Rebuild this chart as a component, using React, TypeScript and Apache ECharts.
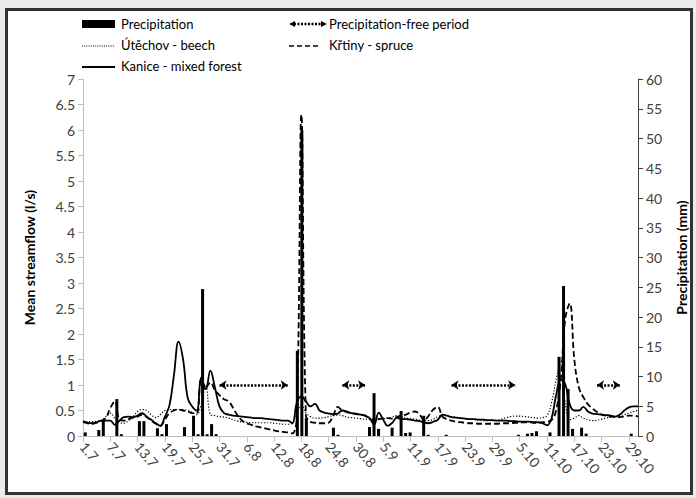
import React, { useEffect, useRef } from "react";
import * as echarts from "echarts";

const dates = [
  "1.7","2.7","3.7","4.7","5.7","6.7","7.7","8.7","9.7","10.7","11.7","12.7","13.7","14.7","15.7","16.7","17.7","18.7","19.7","20.7","21.7","22.7","23.7","24.7","25.7","26.7","27.7","28.7","29.7","30.7","31.7",
  "1.8","2.8","3.8","4.8","5.8","6.8","7.8","8.8","9.8","10.8","11.8","12.8","13.8","14.8","15.8","16.8","17.8","18.8","19.8","20.8","21.8","22.8","23.8","24.8","25.8","26.8","27.8","28.8","29.8","30.8","31.8",
  "1.9","2.9","3.9","4.9","5.9","6.9","7.9","8.9","9.9","10.9","11.9","12.9","13.9","14.9","15.9","16.9","17.9","18.9","19.9","20.9","21.9","22.9","23.9","24.9","25.9","26.9","27.9","28.9","29.9","30.9",
  "1.10","2.10","3.10","4.10","5.10","6.10","7.10","8.10","9.10","10.10","11.10","12.10","13.10","14.10","15.10","16.10","17.10","18.10","19.10","20.10","21.10","22.10","23.10","24.10","25.10","26.10","27.10","28.10","29.10","30.10","31.10",
];

const precipitation = [
  0.6, 0, 0, 1.0, 2.6, 0, 0, 6.2, 0.3, 0,
  0, 0, 2.5, 2.5, 0, 0, 1.3, 0.3, 2.0, 0,
  0, 0, 1.5, 0, 3.4, 0.3, 24.7, 0.3, 2.0, 0.3,
  0, 0, 0, 0, 0, 0, 0, 0, 0, 0,
  0, 0, 0, 0, 0, 0, 0, 14.3, 51.4, 3.0,
  0, 0, 0, 0, 0, 1.4, 0.2, 0, 0, 0,
  0, 0, 0, 1.5, 7.2, 1.2, 0, 0, 1.4, 0,
  4.2, 0.5, 0.6, 0, 0, 3.4, 0.2, 0, 0, 0,
  0.2, 0, 0, 0, 0, 0, 0, 0, 0, 0,
  0, 0, 0, 0, 0, 0, 0.2, 0, 0.4, 0.5,
  0.8, 0, 0, 0.6, 0, 13.3, 25.2, 7.9, 1.2, 0,
  1.4, 0.4, 0, 0, 0, 0, 0, 0, 0, 0,
  0, 0.4, 0,
];

const utechov = [
  0.30, 0.28, 0.28, 0.29, 0.30, 0.38, 0.45, 0.35, 0.27, 0.25,
  0.30, 0.38, 0.48, 0.52, 0.50, 0.42, 0.36, 0.42, 0.50, 0.52,
  0.52, 0.52, 0.52, 0.50, 0.46, 0.42, 0.62, 1.00, 0.42, 0.40,
  0.38, 0.37, 0.35, 0.32, 0.29, 0.28, 0.27, 0.26, 0.26, 0.26,
  0.26, 0.26, 0.25, 0.24, 0.23, 0.23, 0.25, 0.45, 0.60, 0.45,
  0.38, 0.35, 0.35, 0.36, 0.38, 0.40, 0.41, 0.40, 0.37, 0.36,
  0.35, 0.34, 0.33, 0.33, 0.33, 0.33, 0.34, 0.35, 0.37, 0.40,
  0.38, 0.35, 0.34, 0.33, 0.31, 0.30, 0.30, 0.33, 0.38, 0.40,
  0.39, 0.38, 0.37, 0.35, 0.34, 0.33, 0.32, 0.31, 0.30, 0.30,
  0.30, 0.31, 0.33, 0.36, 0.38, 0.39, 0.39, 0.38, 0.37, 0.36,
  0.35, 0.36, 0.40, 0.65, 1.10, 1.45, 0.65, 0.32, 0.35, 0.40,
  0.35, 0.32, 0.30, 0.31, 0.33, 0.35, 0.37, 0.38, 0.40, 0.42,
  0.45, 0.48, 0.50,
];

const krtiny = [
  0.27, 0.25, 0.24, 0.26, 0.30, 0.35, 0.55, 0.68, 0.32, 0.30,
  0.33, 0.36, 0.38, 0.42, 0.37, 0.30, 0.24, 0.20, 0.32, 0.45,
  0.50, 0.52, 0.50, 0.48, 0.45, 0.45, 1.12, 0.95, 1.05, 0.90,
  0.80, 0.72, 0.68, 0.55, 0.40, 0.30, 0.25, 0.22, 0.19, 0.17,
  0.15, 0.13, 0.11, 0.09, 0.08, 0.07, 0.05, 0.35, 6.30, 0.40,
  0.28, 0.26, 0.25, 0.25, 0.26, 0.40, 0.57, 0.50, 0.47, 0.45,
  0.44, 0.42, 0.40, 0.33, 0.30, 0.33, 0.35, 0.35, 0.34, 0.37,
  0.40, 0.42, 0.46, 0.48, 0.42, 0.31, 0.40, 0.52, 0.57, 0.38,
  0.33, 0.30, 0.28, 0.27, 0.26, 0.25, 0.25, 0.24, 0.24, 0.24,
  0.24, 0.24, 0.25, 0.25, 0.25, 0.26, 0.26, 0.27, 0.27, 0.26,
  0.26, 0.27, 0.28, 0.31, 0.50, 1.10, 2.30, 2.60, 1.50, 0.95,
  0.76, 0.62, 0.54, 0.47, 0.42, 0.40, 0.38, 0.37, 0.37, 0.38,
  0.40, 0.40, 0.38,
];

const kanice = [
  0.28, 0.26, 0.25, 0.27, 0.30, 0.30, 0.30, 0.22, 0.30, 0.37,
  0.38, 0.37, 0.40, 0.45, 0.38, 0.32, 0.25, 0.20, 0.38, 0.60,
  1.20, 1.85, 1.50, 0.75, 0.58, 0.50, 1.15, 0.92, 1.28, 0.95,
  0.58, 0.45, 0.42, 0.40, 0.39, 0.38, 0.37, 0.36, 0.35, 0.35,
  0.34, 0.33, 0.32, 0.31, 0.30, 0.30, 0.25, 0.65, 0.78, 0.68,
  0.58, 0.63, 0.50, 0.46, 0.44, 0.43, 0.44, 0.50, 0.48, 0.45,
  0.43, 0.42, 0.40, 0.35, 0.22, 0.46, 0.32, 0.20, 0.26, 0.36,
  0.33, 0.33, 0.32, 0.30, 0.29, 0.26, 0.25, 0.28, 0.32, 0.42,
  0.40, 0.37, 0.36, 0.35, 0.34, 0.33, 0.33, 0.32, 0.32, 0.31,
  0.31, 0.30, 0.30, 0.30, 0.29, 0.29, 0.28, 0.28, 0.28, 0.27,
  0.27, 0.25, 0.21, 0.35, 0.80, 1.10, 1.02, 0.62, 0.50, 0.50,
  0.57, 0.48, 0.44, 0.43, 0.42, 0.41, 0.40, 0.38, 0.42, 0.50,
  0.56, 0.58, 0.58,
];

// precipitation-free periods: [start date, end date], drawn at streamflow level 1
const dryPeriods: [string, string][] = [
  ["31.7", "15.8"],
  ["27.8", "1.9"],
  ["20.9", "4.10"],
  ["22.10", "27.10"],
];
const dryLevel = 1;

const FONT = "Lato, 'Open Sans', sans-serif";

export default function App() {
  const ref = useRef<HTMLDivElement>(null);

  useEffect(() => {
    if (!ref.current) return;
    const chart = echarts.init(ref.current, undefined, { renderer: "svg" });

    const legendText = (x: number, y: number, t: string) => ({
      type: "text",
      x,
      y,
      style: { text: t, fill: "#000", font: `13px ${FONT}`, verticalAlign: "middle", align: "left" },
    });

    const option: any = {
      animation: false,
      textStyle: { fontFamily: FONT },
      grid: { left: 83, right: 57, top: 79, bottom: 62 },
      xAxis: [
        {
          type: "category",
          data: dates,
          boundaryGap: false,
          axisLine: { lineStyle: { color: "#bfbfbf", width: 1 } },
          axisTick: { show: true, interval: 5, length: 6, lineStyle: { color: "#bfbfbf" } },
          axisLabel: {
            interval: 5,
            rotate: -50,
            fontSize: 14,
            color: "#404040",
            fontFamily: FONT,
            margin: 8,
          },
          splitLine: { show: false },
        },
        {
          type: "category",
          data: dates,
          boundaryGap: true,
          show: false,
        },
      ],
      yAxis: [
        {
          type: "value",
          min: 0,
          max: 7,
          interval: 0.5,
          name: "Mean streamflow (l/s)",
          nameLocation: "middle",
          nameGap: 47,
          nameTextStyle: { fontSize: 14, fontWeight: "bold", color: "#000", fontFamily: FONT },
          axisLine: { show: true, lineStyle: { color: "#bfbfbf" } },
          axisTick: { show: true, length: 5, lineStyle: { color: "#bfbfbf" } },
          axisLabel: { fontSize: 14, color: "#404040", fontFamily: FONT, margin: 8 },
          splitLine: { show: false },
        },
        {
          type: "value",
          min: 0,
          max: 60,
          interval: 5,
          position: "right",
          name: "Precipitation (mm)",
          nameLocation: "middle",
          nameGap: 36,
          nameTextStyle: { fontSize: 14, fontWeight: "bold", color: "#000", fontFamily: FONT },
          axisLine: { show: true, lineStyle: { color: "#404040" } },
          axisTick: { show: true, length: 5, lineStyle: { color: "#404040" } },
          axisLabel: { fontSize: 14, color: "#404040", fontFamily: FONT, margin: 8 },
          splitLine: { show: false },
        },
      ],
      series: [
        {
          name: "Precipitation",
          type: "bar",
          xAxisIndex: 1,
          yAxisIndex: 1,
          data: precipitation,
          barWidth: 3,
          itemStyle: { color: "#000" },
          z: 3,
        },
        {
          name: "Útěchov - beech",
          type: "line",
          data: utechov,
          smooth: 0.4,
          symbol: "none",
          lineStyle: { color: "#000", width: 1.2, type: [1.2, 1.8] },
          z: 2,
        },
        {
          name: "Křtiny - spruce",
          type: "line",
          data: krtiny,
          smooth: 0.4,
          symbol: "none",
          lineStyle: { color: "#000", width: 1.8, type: [6, 3] },
          z: 2,
        },
        {
          name: "Kanice - mixed forest",
          type: "line",
          data: kanice,
          smooth: 0.4,
          symbol: "none",
          lineStyle: { color: "#000", width: 1.8 },
          z: 2,
          markLine: {
            silent: true,
            symbol: ["arrow", "arrow"],
            symbolSize: 7,
            label: { show: false },
            lineStyle: { color: "#000", width: 2.5, type: [2, 1.5] },
            data: dryPeriods.map(([a, b]) => [
              { coord: [dates.indexOf(a), dryLevel] },
              { coord: [dates.indexOf(b), dryLevel] },
            ]),
          },
        },
      ],
      graphic: [
        { type: "rect", shape: { x: 82, y: 20, width: 33, height: 8 }, style: { fill: "#000" } },
        legendText(121, 24, "Precipitation"),
        { type: "line", shape: { x1: 82, y1: 46, x2: 115, y2: 46 }, style: { stroke: "#000", lineWidth: 1, lineDash: [1, 1.2] } },
        legendText(121, 45, "Útěchov - beech"),
        { type: "line", shape: { x1: 82, y1: 67, x2: 115, y2: 67 }, style: { stroke: "#000", lineWidth: 2 } },
        legendText(121, 66, "Kanice - mixed forest"),
        { type: "line", shape: { x1: 294, y1: 24, x2: 322, y2: 24 }, style: { stroke: "#000", lineWidth: 2.5, lineDash: [2, 1.5] } },
        { type: "polygon", shape: { points: [[289, 24], [295, 21], [295, 27]] }, style: { fill: "#000" } },
        { type: "polygon", shape: { points: [[327, 24], [321, 21], [321, 27]] }, style: { fill: "#000" } },
        legendText(329, 24, "Precipitation-free period"),
        { type: "line", shape: { x1: 289, y1: 46, x2: 318, y2: 46 }, style: { stroke: "#000", lineWidth: 1.5, lineDash: [5, 3] } },
        legendText(329, 45, "Křtiny - spruce"),
      ],
    };

    chart.setOption(option);
    return () => chart.dispose();
  }, []);

  return (
    <div style={{ position: "fixed", left: 0, top: 0, width: 696, height: 498, background: "#ebebeb" }}>
      <div
        style={{
          position: "absolute",
          left: 5,
          top: 8,
          width: 688,
          height: 487,
          border: "3px solid #333",
          boxSizing: "border-box",
          background: "#fff",
        }}
      />
      <div ref={ref} style={{ position: "absolute", left: 0, top: 0, width: 696, height: 498 }} />
    </div>
  );
}
